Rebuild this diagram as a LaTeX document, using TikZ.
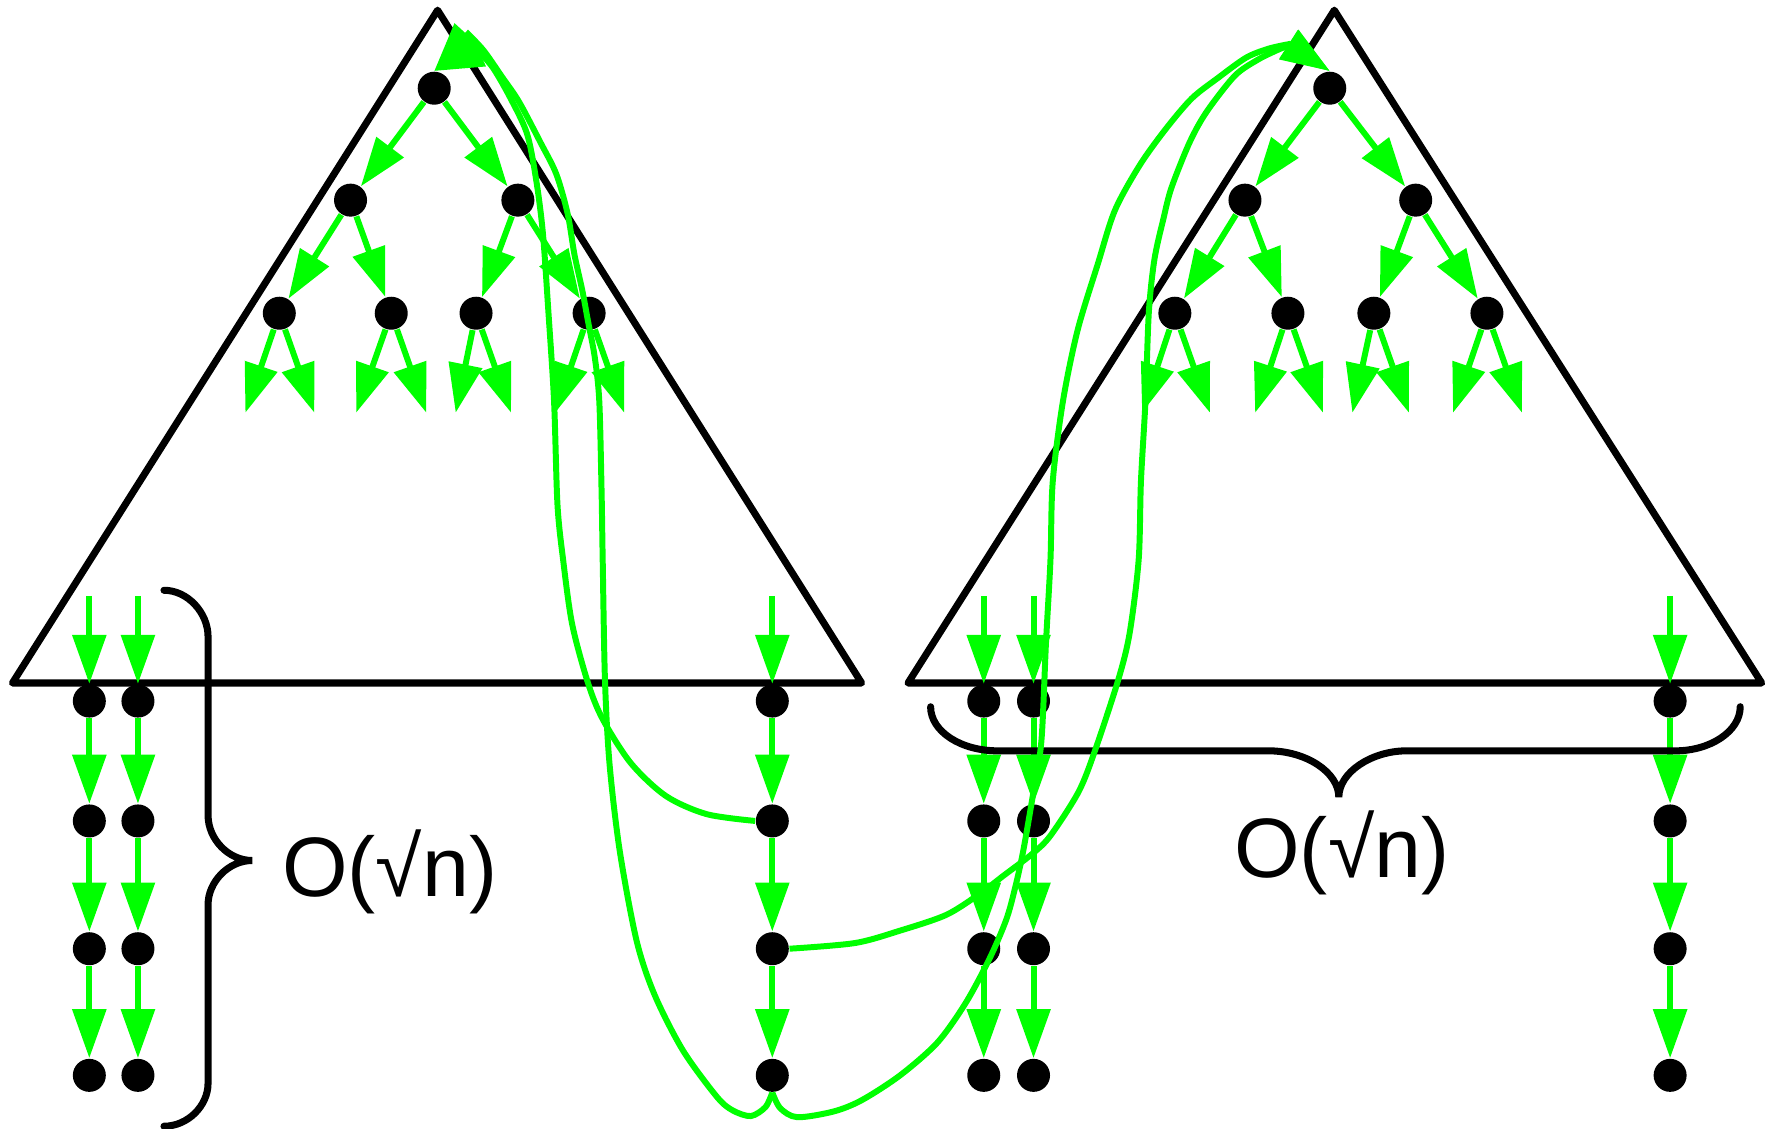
\documentclass[tikz,border=0pt]{standalone}
\usepackage{fontspec}
\setmainfont{Liberation Sans}
\usetikzlibrary{arrows.meta}
\tikzset{
  dot/.style={circle, fill=black, inner sep=0pt, minimum size=3.3mm},
  tri/.style={draw=black, line width=2pt, line join=round, line cap=round},
  brace/.style={draw=black, line width=2pt, line cap=round},
  flow/.style={-{Triangle[length=4.9mm,width=3.3mm]}, line width=1.7pt, draw=green},
  bound/.style={font=\fontsize{24}{28}\selectfont, anchor=base west, inner sep=0pt}
}

\begin{document}
\begin{tikzpicture}[x=0.11307mm, y=-0.11307mm]
  \useasboundingbox (0,0) rectangle (1568,998);

  % the two triangles
  \draw[tri] (387,9) -- (11,604) -- (762,604) -- cycle;
  \draw[tri] (1180,9) -- (803,604) -- (1558,604) -- cycle;

  % left tree
  \node[dot] (lr) at (384,78) {};
  \node[dot] (la) at (310,177) {};
  \node[dot] (lb) at (458,177) {};
  \node[dot] (laa) at (247,277) {};
  \node[dot] (lab) at (346,277) {};
  \node[dot] (lba) at (421,277) {};
  \node[dot] (lbb) at (521,277) {};

  % right tree
  \node[dot] (rr) at (1176,78) {};
  \node[dot] (ra) at (1101,177) {};
  \node[dot] (rb) at (1252,177) {};
  \node[dot] (raa) at (1039,277) {};
  \node[dot] (rab) at (1139,277) {};
  \node[dot] (rba) at (1215,277) {};
  \node[dot] (rbb) at (1315,277) {};

  \draw[flow] (lr) -- (la);
  \draw[flow] (lr) -- (lb);
  \draw[flow] (la) -- (laa);
  \draw[flow] (la) -- (lab);
  \draw[flow] (lb) -- (lba);
  \draw[flow] (lb) -- (lbb);
  \draw[flow] (rr) -- (ra);
  \draw[flow] (rr) -- (rb);
  \draw[flow] (ra) -- (raa);
  \draw[flow] (ra) -- (rab);
  \draw[flow] (rb) -- (rba);
  \draw[flow] (rb) -- (rbb);

  % open ends below the last level
  \foreach \n/\x/\d in {laa/247/30, lab/346/31, lba/421/18, lbb/521/30,
                        raa/1039/29, rab/1139/29, rba/1215/19, rbb/1315/30} {
    \coordinate (\n-l) at (\x-\d,365);
    \coordinate (\n-r) at (\x+31,365);
    \draw[flow] (\n) -- (\n-l);
    \draw[flow] (\n) -- (\n-r);
  }

  % chains hanging below the trees
  \foreach \c/\x in {l1/79, l2/122, l3/683, r1/870, r2/914, r3/1477} {
    \node[dot] (\c1) at (\x,620) {};
    \node[dot] (\c2) at (\x,726) {};
    \node[dot] (\c3) at (\x,839) {};
    \node[dot] (\c4) at (\x,951) {};
    \coordinate (\c0) at (\x,527);
    \draw[flow] (\c0) -- (\c1);
    \draw[flow] (\c1) -- (\c2);
    \draw[flow] (\c2) -- (\c3);
    \draw[flow] (\c3) -- (\c4);
  }

  % braces and bounds
  \draw[brace] (145,522) .. controls (166,522) and (184,542) .. (184,563)
    -- (184,721) .. controls (184,742) and (202,761) .. (223,761)
    .. controls (202,761) and (184,780) .. (184,800)
    -- (184,958) .. controls (184,978) and (166,996) .. (145,996);
  \draw[brace] (823,625) .. controls (823,647) and (850,664) .. (882,664)
    -- (1122,664) .. controls (1155,664) and (1184,683) .. (1184,705)
    .. controls (1184,683) and (1213,664) .. (1244,664)
    -- (1482,664) .. controls (1512,664) and (1539,647) .. (1539,625);
  \node[bound] (lbound) at (249,793) {O(√n)};
  \node[bound] (rbound) at (1091,776) {O(√n)};

  % pointers from the chain back to the roots
  \draw[flow] plot[smooth] coordinates {(l32.west) (625,720) (589,704) (558,675)
    (533,636) (520,604) (506,552) (498,495) (493,446) (490,355) (485,276)
    (480,205) (474,158) (466,118) (451,86) (436,60) (423,45)} -- (lr.north);
  \draw[flow] plot[smooth] coordinates {(l34.south) (677,979) (664,987) (648,982)
    (634,970) (604,929) (579,880) (563,832) (548,752) (539,675) (535,601)
    (533,495) (532,434) (530,355) (526,316) (520,284) (515,257) (508,225)
    (502,189) (492,154) (478,126) (459,90) (444,68) (428,45) (414,30)} -- (lr.north);
  \draw[flow] plot[smooth] coordinates {(l34.south) (690,980) (705,988) (737,983)
    (762,973) (796,951) (829,922) (854,887) (875,848) (890,813) (898,784)
    (905,752) (914,700) (921,655) (925,569) (929,495) (931,426) (940,355)
    (953,292) (971,233) (986,186) (1008,146) (1031,114) (1054,87) (1077,69)
    (1102,51) (1122,43) (1140,39)} -- (rr.north);
  \draw[flow] plot[smooth] coordinates {(l33.east) (756,834) (796,823) (837,809)
    (867,790) (888,774) (913,755) (929,739) (954,700) (969,662) (989,601)
    (999,560) (1007,495) (1009,426) (1013,355) (1016,276) (1021,229)
    (1029,193) (1036,166) (1052,126) (1067,99) (1092,67) (1112,53) (1128,45)
    (1140,40)} -- (rr.north);
\end{tikzpicture}
\end{document}
